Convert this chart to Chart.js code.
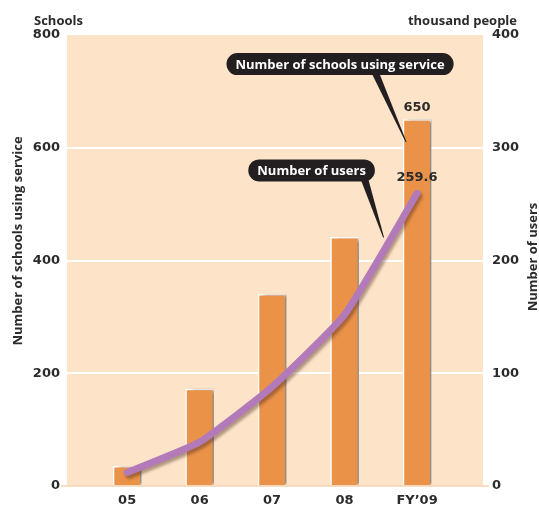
<!DOCTYPE html>
<html>
<head>
<meta charset="utf-8">
<script src="https://cdn.jsdelivr.net/npm/chart.js@4/dist/chart.umd.min.js"></script>
<style>
  html, body { margin: 0; padding: 0; background: #fff; }
  #wrap { width: 539px; height: 509px; }
</style>
</head>
<body>
<div id="wrap"><canvas id="chart" width="539" height="509"></canvas></div>
<script>
// data
var years = ['05', '06', '07', '08', 'FY\u201909'];
var schools = [35, 172, 340, 441, 650];        // left axis
var users = [12, 39, 88, 152, 259.6];          // right axis, thousand people
var schoolTicks = [0, 200, 400, 600, 800];
var userTicks = [0, 100, 200, 300, 400];

var peach = '#fde4c9';
var orange = '#eb9249';
var purple = '#b27ab8';
var ink = '#2b2b2b';
var titleFont = 'bold 13px "Open Sans", sans-serif';
var numFont = 'bold 13px "DejaVu Sans", sans-serif';

function points(values) {
    return values.map(function(v, i) { return {x: i, y: v}; });
}

function roundBox(ctx, x, y, w, h, r) {
    ctx.beginPath();
    ctx.moveTo(x + r, y);
    ctx.lineTo(x + w - r, y);
    ctx.arc(x + w - r, y + r, r, -Math.PI / 2, Math.PI / 2);
    ctx.lineTo(x + r, y + h);
    ctx.arc(x + r, y + r, r, Math.PI / 2, Math.PI * 1.5);
    ctx.closePath();
}

function callout(ctx, text, cx, cy, bx, tipX, tipY) {
    ctx.font = titleFont;
    var w = ctx.measureText(text).width + 18;
    var h = 22;
    ctx.fillStyle = '#231f20';
    // pointer wedge
    ctx.beginPath();
    ctx.moveTo(cx + bx - 4, cy + 6);
    ctx.lineTo(cx + bx + 4, cy + 6);
    ctx.lineTo(tipX + 0.5, tipY);
    ctx.lineTo(tipX - 0.5, tipY);
    ctx.closePath();
    ctx.fill();
    roundBox(ctx, cx - w / 2, cy - h / 2, w, h, h / 2);
    ctx.fill();
    ctx.fillStyle = '#fff';
    ctx.textAlign = 'center';
    ctx.textBaseline = 'middle';
    ctx.fillText(text, cx, cy + 1);
}

var decor = {
    id: 'decor',
    beforeDraw: function(chart) {
        var a = chart.chartArea, ctx = chart.ctx;
        ctx.save();
        ctx.fillStyle = peach;
        ctx.fillRect(a.left, a.top, a.right - a.left, a.bottom - a.top);
        ctx.restore();
    },
    beforeDatasetDraw: function(chart, args) {
        var ctx = chart.ctx;
        ctx.save();
        if (args.meta.type === 'bar') {
            ctx.shadowColor = 'rgba(80, 65, 50, 0.6)';
            ctx.shadowOffsetX = 5;
            ctx.shadowOffsetY = 0;
            ctx.shadowBlur = 3;
        } else {
            ctx.shadowColor = 'rgba(60, 30, 20, 0.4)';
            ctx.shadowOffsetX = 2;
            ctx.shadowOffsetY = 3;
            ctx.shadowBlur = 3;
        }
    },
    afterDatasetDraw: function(chart) {
        chart.ctx.restore();
    },
    afterDraw: function(chart) {
        var ctx = chart.ctx;
        var x = chart.scales.x, yl = chart.scales.y, yr = chart.scales.y1;
        var a = chart.chartArea;
        var last = years.length - 1;
        ctx.save();
        ctx.fillStyle = ink;

        // unit labels
        ctx.font = titleFont;
        ctx.textBaseline = 'middle';
        ctx.textAlign = 'left';
        ctx.fillText('Schools', 34, 21);
        ctx.textAlign = 'right';
        ctx.fillText('thousand people', 517, 21);

        // rotated axis titles
        ctx.textAlign = 'center';
        ctx.save();
        ctx.translate(18, 241);
        ctx.rotate(-Math.PI / 2);
        ctx.fillText('Number of schools using service', 0, 0);
        ctx.restore();
        ctx.save();
        ctx.translate(533, 257);
        ctx.rotate(-Math.PI / 2);
        ctx.fillText('Number of users', 0, 0);
        ctx.restore();

        // value labels on the last year
        ctx.font = numFont;
        ctx.textAlign = 'center';
        ctx.fillText(String(schools[last]), x.getPixelForValue(last), yl.getPixelForValue(schools[last]) - 12);
        ctx.fillText(String(users[last]), x.getPixelForValue(last), yr.getPixelForValue(users[last]) - 16);

        // callouts
        var tip1x = x.getPixelForValue(last) - 11, tip1y = yl.getPixelForValue(610);
        callout(ctx, 'Number of schools using service', tip1x - 66, tip1y - 78, 34, tip1x, tip1y);
        var tip2x = x.getPixelForValue(3) + 39, tip2y = yl.getPixelForValue(441);
        callout(ctx, 'Number of users', tip2x - 72, tip2y - 67, 52, tip2x, tip2y);

        // small base ticks at zero
        ctx.strokeStyle = '#f6d3b0';
        ctx.lineWidth = 1.5;
        ctx.beginPath();
        ctx.moveTo(a.left - 6, a.bottom);
        ctx.lineTo(a.right + 6, a.bottom);
        ctx.stroke();
        ctx.restore();
    }
};

new Chart(document.getElementById('chart'), {
    data: {
        datasets: [{
            type: 'line',
            label: 'Number of users',
            data: points(users),
            yAxisID: 'y1',
            borderColor: purple,
            borderWidth: 7,
            borderCapStyle: 'round',
            borderJoinStyle: 'round',
            pointRadius: 0,
            tension: 0.15,
            order: 0
        }, {
            type: 'bar',
            label: 'Number of schools using service',
            data: points(schools),
            yAxisID: 'y',
            backgroundColor: orange,
            borderColor: '#ffffff',
            borderWidth: 1.5,
            borderSkipped: 'bottom',
            barThickness: 28,
            order: 1
        }]
    },
    options: {
        responsive: false,
        animation: false,
        events: [],
        layout: {padding: {top: 35, left: 0, right: 0, bottom: 0}},
        plugins: {legend: {display: false}, tooltip: {enabled: false}},
        scales: {
            x: {
                type: 'linear',
                offset: false,
                min: -0.83,
                max: 4.91,
                afterBuildTicks: function(scale) {
                    scale.ticks = years.map(function(c, i) { return {value: i}; });
                },
                afterFit: function(scale) { scale.height = 23; },
                ticks: {
                    padding: 7,
                    color: ink,
                    font: {family: 'DejaVu Sans', weight: 'bold', size: 13},
                    maxRotation: 0,
                    callback: function(v) { return years[v]; }
                },
                grid: {display: false, drawTicks: false, offset: false},
                border: {display: false}
            },
            y: {
                position: 'left',
                min: 0,
                max: 800,
                afterBuildTicks: function(scale) {
                    scale.ticks = schoolTicks.map(function(v) { return {value: v}; });
                },
                afterFit: function(scale) { scale.width = 67; },
                ticks: {
                    padding: 7,
                    color: ink,
                    font: {family: 'DejaVu Sans', weight: 'bold', size: 13}
                },
                grid: {
                    drawTicks: false,
                    lineWidth: 2,
                    color: function(c) {
                        return (c.tick && c.tick.value > 0 && c.tick.value < 800) ? '#ffffff' : 'rgba(0,0,0,0)';
                    }
                },
                border: {display: false}
            },
            y1: {
                position: 'right',
                min: 0,
                max: 400,
                afterBuildTicks: function(scale) {
                    scale.ticks = userTicks.map(function(v) { return {value: v}; });
                },
                afterFit: function(scale) { scale.width = 56; },
                ticks: {
                    padding: 9,
                    color: ink,
                    font: {family: 'DejaVu Sans', weight: 'bold', size: 13}
                },
                grid: {display: false, drawTicks: false},
                border: {display: false}
            }
        }
    },
    plugins: [decor]
});
</script>
</body>
</html>
